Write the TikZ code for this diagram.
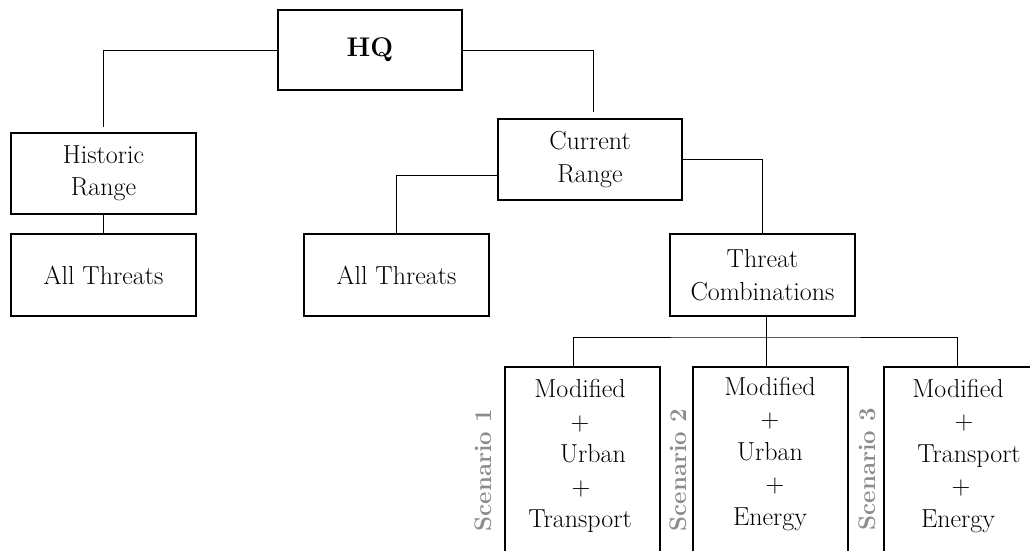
\documentclass[tikz,border=0pt]{standalone}
\usepackage{fontspec}
\definecolor{scgray}{RGB}{140,140,140}
\begin{document}
\begin{tikzpicture}[x=1pt,y=-1pt,
  box/.style={draw,line width=1.8pt,rectangle,inner sep=0pt,align=center,
    font=\fontsize{26}{32.5}\selectfont},
  conn/.style={line width=1pt},
  txt/.style={align=center,font=\fontsize{26}{32.5}\selectfont,inner sep=0pt},
  scen/.style={rotate=90,font=\fontsize{24}{28}\selectfont\bfseries,text=scgray,inner sep=0pt}]
\clip (0,0) rectangle (1030,550);
% top levels
\node[box,minimum width=184pt,minimum height=80pt] (HQ) at (370,50) {\fontsize{27}{32}\selectfont\bfseries HQ};
\node[box,minimum width=185pt,minimum height=81pt] (Hist) at (103.5,173.5) {Historic\\Range};
\node[box,minimum width=185pt,minimum height=82pt] (AT1) at (103.5,275) {All Threats};
\node[box,minimum width=184pt,minimum height=81pt] (Cur) at (590,159.5) {Current\\Range};
\node[box,minimum width=185pt,minimum height=82pt] (AT2) at (396.5,275) {All Threats};
\node[box,minimum width=185pt,minimum height=82pt] (TC) at (762.5,275) {Threat\\Combinations};
% scenario boxes (cut by the page edge)
\node[box,minimum width=155pt,minimum height=220pt] (S1) at (582.5,477) {};
\node[box,minimum width=155pt,minimum height=220pt] (S2) at (770.5,477) {};
\node[box,minimum width=155pt,minimum height=220pt] (S3) at (961.5,477) {};
\node[txt] (S1t) at (580,456) {Modified\\+\\\hspace*{26pt}Urban\\\hspace*{2pt}+\\Transport};
\node[txt] (S2t) at (770,454) {Modified\\+\\Urban\\\hspace*{10pt}+\\Energy};
\node[txt] (S3t) at (958,456) {Modified\\\hspace*{12pt}+\\\hspace*{22pt}Transport\\\hspace*{6pt}+\\Energy};
\node[scen] (L1) at (483,470) {Scenario 1};
\node[scen] (L2) at (678,470) {Scenario 2};
\node[scen] (L3) at (867,469) {Scenario 3};
% connectors
\draw[conn,shorten >=5pt] (HQ.west) -| (Hist.north);
\draw[conn,shorten >=6pt] (HQ.east) -| ([xshift=3pt]Cur.north);
\draw[conn] (Hist.south) -- (AT1.north);
\draw[conn] ([yshift=-15.5pt]Cur.west) -| (AT2.north);
\draw[conn] (Cur.east) -| (TC.north);
\coordinate (bus) at (766,337);
\draw[conn] ([xshift=3.5pt]TC.south) -- ([xshift=-4.5pt]S2.north);
\draw[conn] ([xshift=-9.5pt]S1.north) |- (bus) -| ([xshift=-4.5pt]S3.north);
\end{tikzpicture}
\end{document}
